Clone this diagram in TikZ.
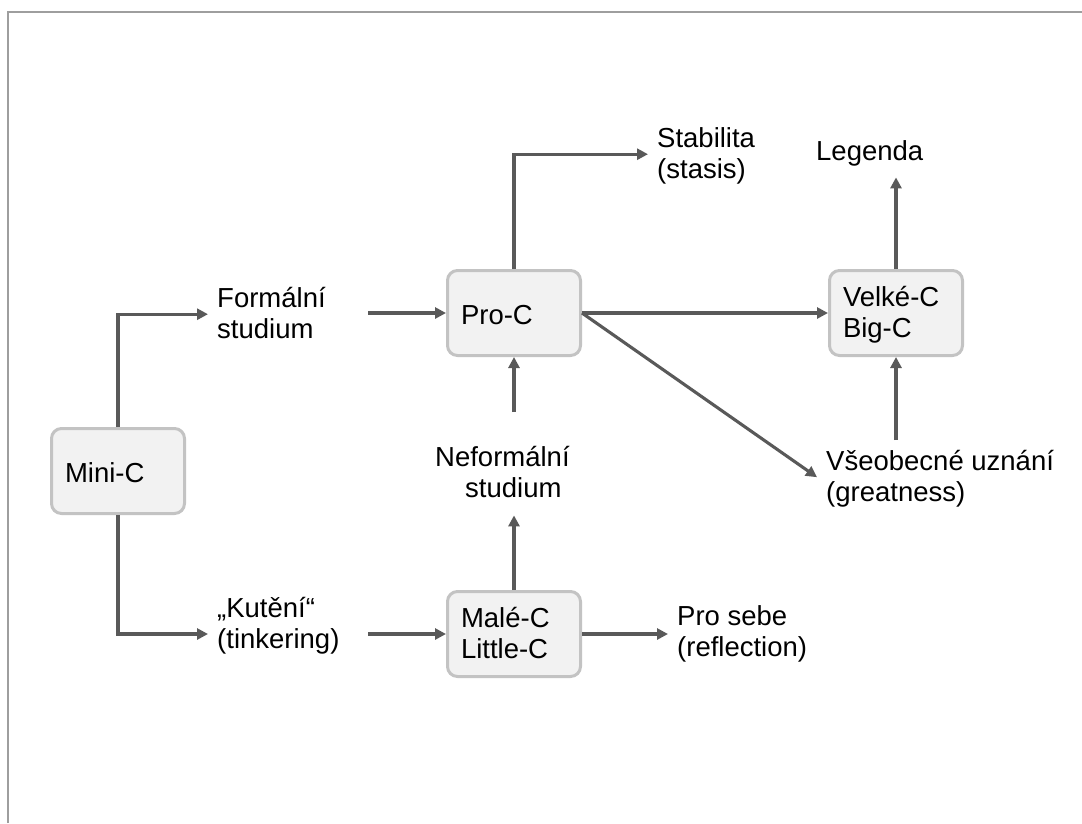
\documentclass[tikz,border=0pt]{standalone}
\usepackage{fontspec}
\setmainfont{Liberation Sans}
\usetikzlibrary{arrows.meta}

\definecolor{linegray}{HTML}{595959}
\definecolor{boxfill}{HTML}{F2F2F2}
\definecolor{boxline}{HTML}{C3C3C3}
\definecolor{framegray}{HTML}{9E9E9E}

% fixed-height struts so every text line has the same box
\newcommand{\rowstrut}{\rule[-7pt]{0pt}{31pt}}
\newcommand{\onestrut}{\rule[-4pt]{0pt}{31pt}}

\tikzset{
  txt/.style={font=\fontsize{27.5}{31}\selectfont, text=black},
  stage/.style={txt, draw=boxline, fill=boxfill, line width=3pt,
    rounded corners=10pt, minimum width=133pt, minimum height=85pt,
    text width=106pt, inner xsep=13.5pt, inner ysep=0pt, align=left},
  lbl/.style={txt, anchor=north west, inner xsep=9pt, inner ysep=0pt, align=left},
  conn/.style={draw=linegray, line width=3.1pt,
    -{Triangle[length=11pt,width=11pt]}},
}

\begin{document}
\begin{tikzpicture}[x=1pt,y=-1pt]
  \useasboundingbox (0,0) rectangle (1082,823);
  % page frame (top and left edges)
  \draw[framegray, line width=1.5pt] (7.8,823) -- (7.8,11.8) -- (1082,11.8);

  % stages
  \node[stage] (minic) at (118,471) {\onestrut Mini-C};
  \node[stage] (proc)  at (514,313) {\onestrut Pro-C};
  \node[stage] (velke) at (896,313) {\rowstrut Velké-C\\\rowstrut Big-C};
  \node[stage] (malec) at (514,634) {\rowstrut Malé-C\\\rowstrut Little-C};

  % labels
  \node[lbl, text width=142pt] (formal) at (208,283) {\rowstrut Formální\\\rowstrut studium};
  \node[lbl, text width=142pt] (kutl)   at (208,593) {\rowstrut „Kutění“\\\rowstrut (tinkering)};
  \node[lbl, inner xsep=0pt] (neform) at (435,442) {\rowstrut Neformální\\\rowstrut\hspace*{30pt}studium};
  \node[lbl] (prosebe) at (668,601) {\rowstrut Pro sebe\\\rowstrut (reflection)};
  \node[lbl] (stab)    at (648,123) {\rowstrut Stabilita\\\rowstrut (stasis)};
  \node[lbl] (legenda) at (807,136) {\rowstrut Legenda};
  \node[lbl] (vseob)   at (817,446) {\rowstrut Všeobecné uznání\\\rowstrut (greatness)};

  % connectors
  \draw[conn] (minic.north) |- (formal.west);
  \draw[conn] (formal.east |- proc.west) -- (proc.west);
  \draw[conn] (minic.south) |- (kutl.west |- malec.west);
  \draw[conn] (kutl.east |- malec.west) -- (malec.west);
  \draw[conn] (malec.east) -- (prosebe.west |- malec.east);
  \draw[conn, shorten >=11pt] (malec.north) -- (malec.north |- neform.south);
  \draw[conn, shorten <=30pt] (proc.south |- neform.north) -- (proc.south);
  \draw[conn] (proc.north) |- (stab.west);
  \draw[conn] (proc.east) -- (velke.west);
  \draw[conn] (proc.east) -- (vseob.west);
  \draw[conn, shorten <=6pt] (velke.south |- vseob.north) -- (velke.south);
  \draw[conn, shorten >=10pt] (velke.north) -- (velke.north |- legenda.south);
\end{tikzpicture}
\end{document}
